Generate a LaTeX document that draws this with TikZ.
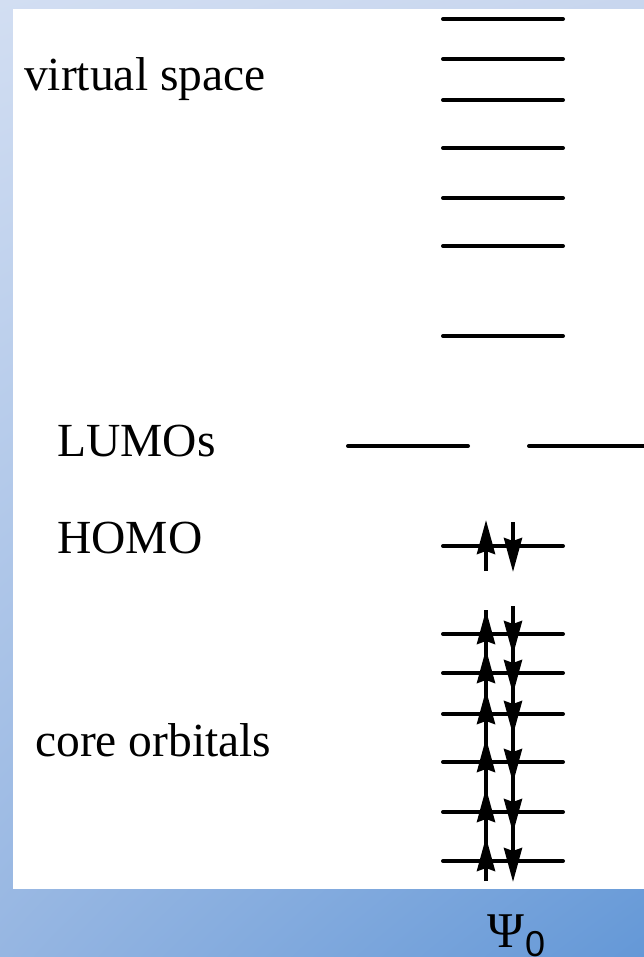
\documentclass[tikz,border=0pt]{standalone}
\usepackage{fontspec}
\setmainfont{Liberation Serif}
\newfontfamily\subsans{Liberation Sans}
\usetikzlibrary{arrows.meta,shadings}
\definecolor{bgul}{RGB}{210,222,242}
\definecolor{bgur}{RGB}{200,214,238}
\definecolor{bgll}{RGB}{150,182,226}
\definecolor{bglr}{RGB}{100,152,215}
\tikzset{
  level/.style={line width=4pt, line cap=round},
  spin/.style={line width=4pt, -{Stealth[length=34pt,width=18pt,inset=3pt]}},
  lbl/.style={anchor=base west, inner sep=0pt, font=\fontsize{47.5}{56}\selectfont},
}
\begin{document}
\begin{tikzpicture}[x=1pt,y=-1pt]
\useasboundingbox (0,0) rectangle (644,957);
\shade[upper left=bgul, upper right=bgur, lower left=bgll, lower right=bglr] (0,0) rectangle (644,957);
\fill[white] (13,9) rectangle (650,889);
% virtual levels
\foreach \y in {19,59,100,148,198,246,336} \draw[level] (443,\y) -- (563,\y);
% LUMOs
\draw[level] (348,446) -- (468,446);
\draw[level] (529,446) -- (660,446);
% HOMO
\draw[level] (443,546) -- (563,546);
\draw[spin] (486,571) -- (486,520);
\draw[spin] (513,522) -- (513,572);
% core
\foreach \y in {634,673,714,762,812,861} {
  \draw[level] (443,\y) -- (563,\y);
  \draw[spin] (486,\y+20) -- (486,\y-24);
  \draw[spin] (513,\y-26) -- (513,\y+21);
}
\draw[line width=4pt] (486,610) -- (486,880);
\draw[line width=4pt] (513,606) -- (513,865);
% labels
\node[lbl] (virt) at (24,91) {virtual space};
\node[lbl] (lumo) at (57,456) {LUMOs};
\node[lbl] (homo) at (57,553) {HOMO};
\node[lbl] (core) at (35,756) {core orbitals};
\node[anchor=base west, inner sep=0pt, font=\fontsize{50}{58}\selectfont] (psi) at (487,947) {Ψ};
\node[anchor=base west, inner sep=0pt, font=\subsans\fontsize{36}{40}\selectfont] (sub) at (525,956) {0};
\end{tikzpicture}
\end{document}
